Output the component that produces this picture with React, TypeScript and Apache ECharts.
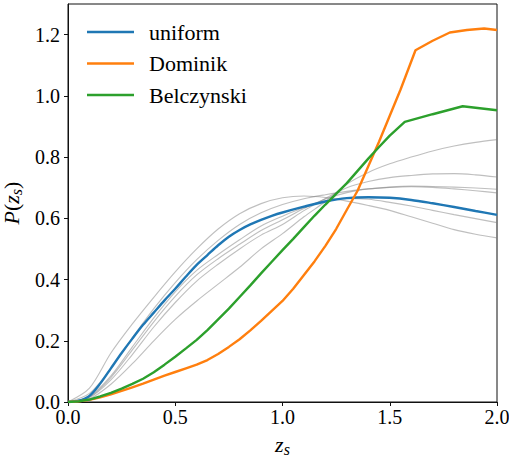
import React, { useEffect, useRef } from "react";
import * as echarts from "echarts";

// ---- data ----
const uniformX = [0, 0.05, 0.1, 0.15, 0.2, 0.25, 0.3, 0.35, 0.4, 0.45, 0.5, 0.55, 0.6, 0.65, 0.7, 0.75, 0.8, 0.85, 0.9, 0.95, 1.0, 1.1, 1.2, 1.3, 1.4, 1.5, 1.6, 1.7, 1.8, 1.9, 2.0];
const uniformY = [0, 0.004, 0.02, 0.06, 0.11, 0.16, 0.207, 0.252, 0.292, 0.332, 0.37, 0.41, 0.448, 0.48, 0.512, 0.54, 0.562, 0.58, 0.595, 0.608, 0.619, 0.638, 0.655, 0.666, 0.669, 0.667, 0.66, 0.649, 0.637, 0.624, 0.611];

const dominikX = [0, 0.05, 0.1, 0.15, 0.2, 0.25, 0.3, 0.35, 0.4, 0.45, 0.5, 0.55, 0.6, 0.65, 0.7, 0.75, 0.8, 0.85, 0.9, 0.95, 1.0, 1.05, 1.1, 1.15, 1.2, 1.25, 1.3, 1.35, 1.4, 1.45, 1.5, 1.55, 1.62, 1.7, 1.78, 1.86, 1.94, 2.0];
const dominikY = [0, 0.002, 0.007, 0.015, 0.025, 0.036, 0.048, 0.06, 0.073, 0.086, 0.098, 0.11, 0.122, 0.137, 0.157, 0.18, 0.205, 0.234, 0.265, 0.298, 0.33, 0.37, 0.415, 0.46, 0.51, 0.565, 0.628, 0.69, 0.77, 0.85, 0.935, 1.02, 1.149, 1.18, 1.207, 1.215, 1.22, 1.215];

const belczynskiX = [0, 0.05, 0.1, 0.15, 0.2, 0.25, 0.3, 0.35, 0.4, 0.45, 0.5, 0.55, 0.6, 0.65, 0.7, 0.75, 0.8, 0.85, 0.9, 0.95, 1.0, 1.05, 1.1, 1.15, 1.2, 1.25, 1.3, 1.35, 1.4, 1.45, 1.5, 1.57, 1.7, 1.84, 2.0];
const belczynskiY = [0, 0.002, 0.008, 0.018, 0.03, 0.044, 0.059, 0.076, 0.097, 0.122, 0.148, 0.175, 0.203, 0.235, 0.27, 0.305, 0.343, 0.381, 0.42, 0.458, 0.496, 0.533, 0.571, 0.609, 0.645, 0.68, 0.715, 0.755, 0.795, 0.833, 0.87, 0.915, 0.94, 0.966, 0.953];

const grayX = [0, 0.1, 0.2, 0.3, 0.4, 0.5, 0.6, 0.7, 0.8, 0.9, 1.0, 1.1, 1.2, 1.3, 1.4, 1.5, 1.6, 1.7, 1.8, 1.9, 2.0];
const gray1 = [0, 0.045, 0.16, 0.255, 0.342, 0.425, 0.5, 0.565, 0.615, 0.648, 0.667, 0.673, 0.668, 0.656, 0.642, 0.626, 0.605, 0.584, 0.563, 0.548, 0.536];
const gray2 = [0, 0.028, 0.11, 0.21, 0.305, 0.39, 0.465, 0.528, 0.58, 0.618, 0.645, 0.664, 0.677, 0.688, 0.696, 0.701, 0.703, 0.701, 0.696, 0.69, 0.683];
const gray3 = [0, 0.018, 0.085, 0.18, 0.275, 0.36, 0.43, 0.482, 0.53, 0.575, 0.607, 0.635, 0.657, 0.665, 0.662, 0.652, 0.64, 0.626, 0.612, 0.599, 0.586];
const gray4 = [0, 0.016, 0.08, 0.17, 0.262, 0.345, 0.415, 0.468, 0.515, 0.56, 0.595, 0.632, 0.663, 0.684, 0.696, 0.702, 0.705, 0.704, 0.702, 0.699, 0.695];
const gray5 = [0, 0.014, 0.072, 0.155, 0.245, 0.325, 0.395, 0.45, 0.5, 0.545, 0.58, 0.625, 0.665, 0.7, 0.72, 0.733, 0.74, 0.745, 0.746, 0.742, 0.735];
const gray6 = [0, 0.01, 0.058, 0.125, 0.2, 0.27, 0.33, 0.385, 0.44, 0.5, 0.55, 0.605, 0.655, 0.712, 0.75, 0.778, 0.8, 0.82, 0.836, 0.848, 0.857];
const grayLines = [gray1, gray2, gray3, gray4, gray5, gray6];

const xTicks = [0, 0.5, 1.0, 1.5, 2.0];
const yTicks = [0, 0.2, 0.4, 0.6, 0.8, 1.0, 1.2];
const legendNames = ["uniform", "Dominik", "Belczynski"];

const pairs = (xs: number[], ys: number[]) => xs.map((x, i) => [x, ys[i]]);

const SERIF = "Liberation Serif";

export default function App() {
  const ref = useRef<HTMLDivElement>(null);
  useEffect(() => {
    if (!ref.current) return;
    const chart = echarts.init(ref.current, undefined, { renderer: "svg" });
    const graySeries = grayLines.map((g, i) => ({
      name: "g" + i,
      type: "line",
      data: pairs(grayX, g),
      symbol: "none",
      smooth: 0.3,
      lineStyle: { color: "rgba(128,128,128,0.5)", width: 1.1 },
      z: 1,
    }));
    const colored = [
      { name: legendNames[0], xs: uniformX, ys: uniformY, color: "#1f77b4", smooth: 0.3 },
      { name: legendNames[1], xs: dominikX, ys: dominikY, color: "#ff7f0e", smooth: false },
      { name: legendNames[2], xs: belczynskiX, ys: belczynskiY, color: "#2ca02c", smooth: false },
    ].map((s) => ({
      name: s.name,
      type: "line",
      data: pairs(s.xs, s.ys),
      symbol: "none",
      smooth: s.smooth,
      color: s.color,
      lineStyle: { color: s.color, width: 2.4 },
      z: 3,
    }));
    chart.setOption({
      animation: false,
      textStyle: { fontFamily: SERIF },
      grid: {
        left: 68,
        right: 12,
        top: 4,
        bottom: 55,
        outerBoundsMode: "none",
        containLabel: false,
        show: true,
        borderColor: "#111",
        borderWidth: 1,
        backgroundColor: "transparent",
      },
      legend: {
        data: legendNames,
        orient: "vertical",
        left: 87,
        top: 21,
        padding: 0,
        icon: "rect",
        itemWidth: 47,
        itemHeight: 2.5,
        itemGap: 9.5,
        textStyle: {
          fontFamily: SERIF,
          fontSize: 22,
          color: "#000",
          lineHeight: 22,
          padding: [0, 0, 0, 10],
        },
      },
      xAxis: {
        type: "value",
        min: 0,
        max: 2,
        interval: 0.5,
        name: "{i|z}{s|s}",
        nameLocation: "middle",
        nameGap: 23,
        nameTextStyle: {
          rich: {
            i: { fontFamily: SERIF, fontStyle: "italic", fontSize: 22, color: "#000", lineHeight: 22 },
            s: { fontFamily: SERIF, fontStyle: "italic", fontSize: 16, color: "#000", lineHeight: 16, padding: [10, 0, 0, 0] },
          },
        },
        splitLine: { show: false },
        axisLine: { show: true, lineStyle: { color: "#111", width: 1 } },
        axisTick: { show: true, length: 4, lineStyle: { color: "#111" }, customValues: xTicks },
        axisLabel: {
          customValues: xTicks,
          margin: 5,
          fontFamily: SERIF,
          fontSize: 20,
          color: "#000",
          formatter: (v: number) => v.toFixed(1),
        },
      },
      yAxis: {
        type: "value",
        min: 0,
        max: 1.3,
        interval: 0.2,
        name: "{i|P}{n|(}{i|z}{s|s}{n|)}",
        nameLocation: "middle",
        nameGap: 37,
        nameRotate: 90,
        nameTextStyle: {
          rich: {
            i: { fontFamily: SERIF, fontStyle: "italic", fontSize: 22, color: "#000", lineHeight: 22 },
            n: { fontFamily: SERIF, fontSize: 22, color: "#000", lineHeight: 22 },
            s: { fontFamily: SERIF, fontStyle: "italic", fontSize: 16, color: "#000", lineHeight: 16, padding: [10, 0, 0, 0] },
          },
        },
        splitLine: { show: false },
        axisLine: { show: true, lineStyle: { color: "#111", width: 1 } },
        axisTick: { show: true, length: 4, lineStyle: { color: "#111" }, customValues: yTicks },
        axisLabel: {
          customValues: yTicks,
          margin: 8,
          fontFamily: SERIF,
          fontSize: 20,
          color: "#000",
          formatter: (v: number) => v.toFixed(1),
        },
      },
      series: [...graySeries, ...colored],
    });
    return () => chart.dispose();
  }, []);
  return (
    <div
      ref={ref}
      style={{ position: "absolute", left: 0, top: 0, width: 509, height: 457 }}
    />
  );
}
